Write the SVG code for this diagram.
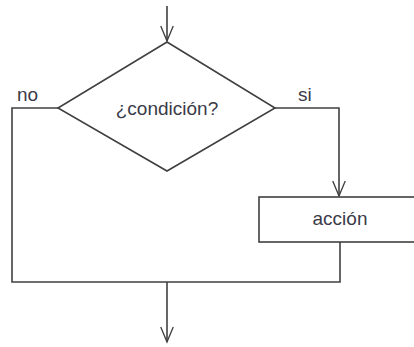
<svg xmlns="http://www.w3.org/2000/svg" width="414" height="347" viewBox="0 0 414 347">
<style>
.ln{fill:none;stroke:#404040;stroke-width:1.6;stroke-linejoin:miter}
.sh{fill:#fff;stroke:#404040;stroke-width:1.6}
.t{font-family:"Liberation Sans",Arial,sans-serif;font-size:19px;fill:#3a3a48}
</style>
<defs>
<marker id="ah" markerWidth="20" markerHeight="24" viewBox="-20 -10 24 20" refX="0" refY="0" orient="auto" markerUnits="userSpaceOnUse">
<path d="M-18 -7.5 L0 0 L-18 7.5" fill="none" stroke="#404040" stroke-width="1.6"/>
</marker>
</defs>
<rect width="414" height="347" fill="#fff"/>
<g id="connectors">
<path class="ln" d="M167 6 V41" marker-end="url(#ah)"/>
<path class="ln" d="M58 108 H12 V282 H340 V242"/>
<path class="ln" d="M275 108 H339 V196" marker-end="url(#ah)"/>
<path class="ln" d="M167 282 V342" marker-end="url(#ah)"/>
</g>
<g id="decision">
<polygon class="sh" points="167,42 275,108 167,171 58,108"/>
<text class="t" x="167" y="115" text-anchor="middle">¿condición?</text>
</g>
<g id="label-no"><text class="t" x="17" y="101">no</text></g>
<g id="label-si"><text class="t" x="298" y="101">si</text></g>
<g id="action">
<rect class="sh" x="259" y="197" width="170" height="45"/>
<text class="t" x="340" y="225" text-anchor="middle">acción</text>
</g>
</svg>
